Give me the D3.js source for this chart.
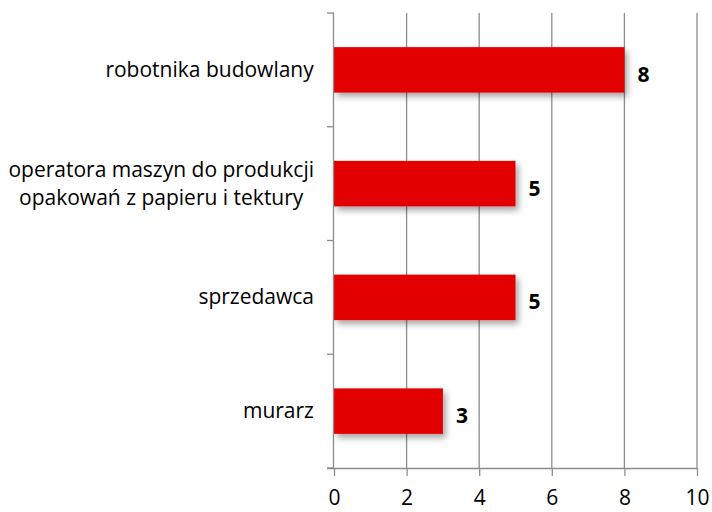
<!DOCTYPE html>
<html>
<head>
<meta charset="utf-8">
<script src="https://cdn.jsdelivr.net/npm/d3@7"></script>
<style>
  body { margin: 0; background: #fff; }
  text { font-family: "Open Sans", sans-serif; fill: #000; }
</style>
</head>
<body>
<div id="chart"></div>
<script>
const categories = [
  ["robotnika budowlany"],
  ["operatora maszyn do produkcji", "opakowań z papieru i tektury"],
  ["sprzedawca"],
  ["murarz"]
];
const values = [8, 5, 5, 3];
const xTicks = [0, 2, 4, 6, 8, 10];

const margin = { top: 13, right: 15, bottom: 44, left: 334 },
  width = 712 - margin.left - margin.right,
  height = 512 - margin.top - margin.bottom;

const svg = d3.select("#chart").append("svg")
  .attr("width", 712)
  .attr("height", 512);

const defs = svg.append("defs");
const shadow = defs.append("filter").attr("id", "shadow")
  .attr("x", "-10%").attr("y", "-30%").attr("width", "130%").attr("height", "180%");
shadow.append("feDropShadow")
  .attr("dx", 3).attr("dy", 4).attr("stdDeviation", 3)
  .attr("flood-color", "#000").attr("flood-opacity", 0.35);

const g = svg.append("g").attr("transform", `translate(${margin.left},${margin.top})`);

const x = d3.scaleLinear().domain([0, 10]).range([0, width]);
const y = d3.scaleBand().domain(d3.range(categories.length)).range([0, height])
  .paddingInner(0.6).paddingOuter(0.3);

// Vertical gridlines
g.selectAll(".grid")
  .data(xTicks.slice(1))
  .join("line")
  .attr("x1", d => x(d)).attr("x2", d => x(d))
  .attr("y1", 0).attr("y2", height)
  .attr("stroke", "#8c8c8c")
  .attr("stroke-width", 1.3);

// Bars
g.selectAll(".bar")
  .data(values)
  .join("rect")
  .attr("x", x(0))
  .attr("y", (d, i) => y(i))
  .attr("width", d => x(d) - x(0))
  .attr("height", y.bandwidth())
  .attr("fill", "#e20000")
  .attr("filter", "url(#shadow)");

// Value labels
g.selectAll(".val")
  .data(values)
  .join("text")
  .attr("x", d => x(d) + 13)
  .attr("y", (d, i) => y(i) + y.bandwidth() / 2 + 12)
  .style("font-size", "21px")
  .style("font-weight", "bold")
  .text(d => d);

// Category axis (left)
const step = height / categories.length;
g.append("line")
  .attr("x1", -0.5).attr("x2", -0.5)
  .attr("y1", 0).attr("y2", height)
  .attr("stroke", "#8c8c8c").attr("stroke-width", 1.3);
g.selectAll(".ytick")
  .data(d3.range(categories.length + 1))
  .join("line")
  .attr("x1", -7).attr("x2", 0)
  .attr("y1", d => d * step).attr("y2", d => d * step)
  .attr("stroke", "#8c8c8c").attr("stroke-width", 1.3);

// X axis
const xAxis = g.append("g")
  .attr("transform", `translate(0,${height})`)
  .call(d3.axisBottom(x).tickValues(xTicks).tickSize(8).tickSizeOuter(0));
xAxis.select(".domain").attr("stroke", "#8c8c8c").attr("stroke-width", 1.3)
  .attr("d", `M-7,0.5H${width}`);
xAxis.selectAll(".tick line").attr("stroke", "#8c8c8c").attr("stroke-width", 1.3);
xAxis.selectAll(".tick text")
  .attr("dy", 0)
  .attr("y", 37)
  .style("font-size", "21px")
  .style("font-family", "'Open Sans', sans-serif")
  .attr("fill", "#000");

// Category labels
categories.forEach((lines, i) => {
  const cy = y(i) + y.bandwidth() / 2;
  const lh = 28;
  const t = g.append("text")
    .style("font-size", "21px")
    .attr("text-anchor", "middle");
  lines.forEach((line, j) => {
    t.append("tspan")
      .attr("x", 0)
      .attr("y", cy + (j - (lines.length - 1) / 2) * lh + 7)
      .text(line);
  });
  // right-align the whole block, lines centred to each other
  const bb = t.node().getBBox();
  t.selectAll("tspan").attr("x", -20 - bb.width / 2);
});
</script>
</body>
</html>
